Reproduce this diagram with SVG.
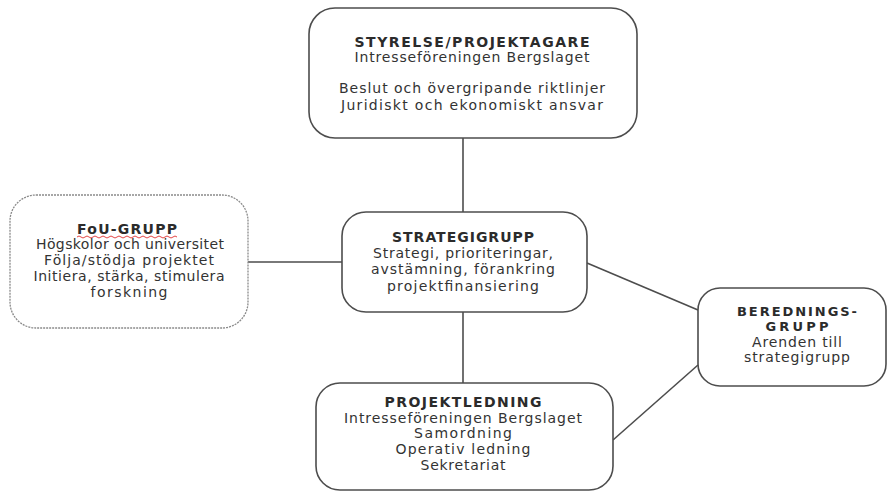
<svg xmlns="http://www.w3.org/2000/svg" width="887" height="493" viewBox="0 0 887 493">
<style>
.box{fill:#fff;stroke:#4d4d4d;stroke-width:1.6}
.dash{fill:#fff;stroke:#8a8a8a;stroke-width:1.3;stroke-dasharray:2 1}
.t{font-family:"DejaVu Sans",sans-serif;font-size:14px;fill:#333;text-anchor:middle}
.b{font-family:"DejaVu Sans",sans-serif;font-size:14px;font-weight:bold;fill:#2b2b2b;text-anchor:middle}
.s{font-size:13px}
.c{stroke:#4d4d4d;stroke-width:1.6;fill:none}
</style>
<rect width="887" height="493" fill="#fff"/>
<g id="connectors">
<line class="c" x1="463" y1="138" x2="463" y2="212"/>
<line class="c" x1="248" y1="262" x2="342" y2="262"/>
<line class="c" x1="463" y1="312" x2="463" y2="383"/>
<line class="c" x1="587" y1="263" x2="698" y2="310"/>
<line class="c" x1="613" y1="440" x2="698" y2="365"/>
</g>
<g id="styrelse">
<rect class="box" x="309" y="8" width="328" height="130" rx="26"/>
<text class="b" x="472" y="47" textLength="235" lengthAdjust="spacing">STYRELSE/PROJEKTAGARE</text>
<text class="t" x="472" y="62" textLength="235" lengthAdjust="spacing">Intresseföreningen Bergslaget</text>
<text class="t" x="472" y="93" textLength="266" lengthAdjust="spacing">Beslut och övergripande riktlinjer</text>
<text class="t" x="472" y="110" textLength="262" lengthAdjust="spacing">Juridiskt och ekonomiskt ansvar</text>
</g>
<g id="fou">
<rect class="dash" x="10" y="195" width="238" height="133" rx="26"/>
<text class="b" x="127" y="234" textLength="100" lengthAdjust="spacing">FoU-GRUPP</text>
<path d="M77 237 q2 -2 4 0 t4 0 t4 0 t4 0 t4 0 t4 0 t4 0 t4 0 t4 0 t4 0 t4 0 t4 0 t4 0 t4 0 t4 0 t4 0 t4 0 t4 0 t4 0 t4 0 t4 0 t4 0 t4 0 t4 0 t4 0" fill="none" stroke="#e03030" stroke-width="0.9"/>
<text class="t" x="130" y="249" textLength="188" lengthAdjust="spacing">Högskolor och universitet</text>
<text class="t" x="129" y="265" textLength="170" lengthAdjust="spacing">Följa/stödja projektet</text>
<text class="t" x="129" y="281" textLength="191" lengthAdjust="spacing">Initiera, stärka, stimulera</text>
<text class="t" x="129" y="297" textLength="77" lengthAdjust="spacing">forskning</text>
</g>
<g id="strategigrupp">
<rect class="box" x="342" y="212" width="245" height="100" rx="24"/>
<text class="b" x="463" y="242" textLength="142" lengthAdjust="spacing">STRATEGIGRUPP</text>
<text class="t" x="463" y="258" textLength="180" lengthAdjust="spacing">Strategi, prioriteringar,</text>
<text class="t" x="463" y="274" textLength="184" lengthAdjust="spacing">avstämning, förankring</text>
<text class="t" x="463" y="291" textLength="152" lengthAdjust="spacing">projektfinansiering</text>
</g>
<g id="projektledning">
<rect class="box" x="316" y="383" width="297" height="107" rx="24"/>
<text class="b" x="463" y="407" textLength="157" lengthAdjust="spacing">PROJEKTLEDNING</text>
<text class="t" x="463" y="423" textLength="238" lengthAdjust="spacing">Intresseföreningen Bergslaget</text>
<text class="t" x="463" y="438" textLength="98" lengthAdjust="spacing">Samordning</text>
<text class="t" x="463" y="454" textLength="135" lengthAdjust="spacing">Operativ ledning</text>
<text class="t" x="463" y="470" textLength="85" lengthAdjust="spacing">Sekretariat</text>
</g>
<g id="beredningsgrupp">
<rect class="box" x="698" y="288" width="188" height="98" rx="22"/>
<text class="b s" x="797" y="316" textLength="120" lengthAdjust="spacing">BEREDNINGS-</text>
<text class="b s" x="797" y="331" textLength="63" lengthAdjust="spacing">GRUPP</text>
<text class="t" x="797" y="347" textLength="90" lengthAdjust="spacing">Arenden till</text>
<text class="t" x="797" y="362" textLength="106" lengthAdjust="spacing">strategigrupp</text>
</g>
</svg>
